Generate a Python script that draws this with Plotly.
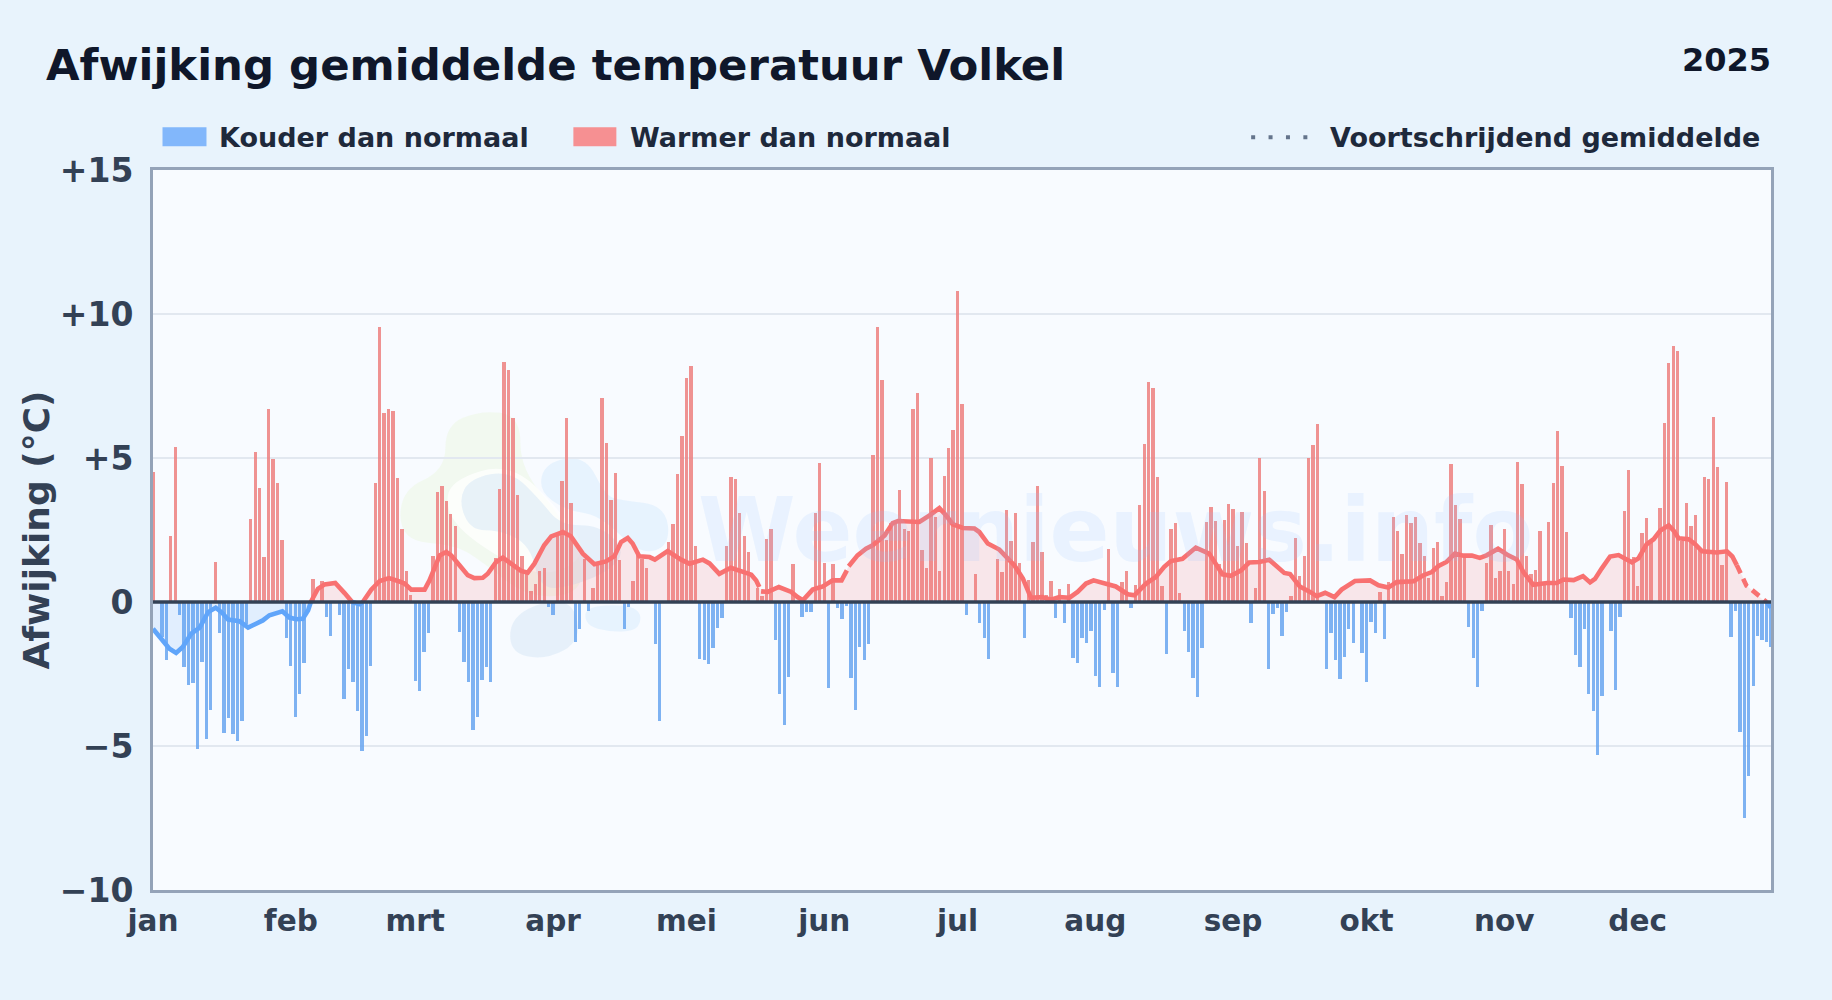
import plotly.graph_objects as go

# ---- data -----------------------------------------------------------------
month_days = [0, 31, 59, 90, 120, 151, 181, 212, 243, 273, 304, 334]
month_labels = ["jan", "feb", "mrt", "apr", "mei", "jun", "jul", "aug", "sep", "okt", "nov", "dec"]
y_ticks = [-10, -5, 0, 5, 10, 15]
y_labels = ["\u221210", "\u22125", "0", "+5", "+10", "+15"]

anomaly_jan_feb = [4.5, 0, -1.2, -2.0, 2.3, 5.37, -0.46, -2.26, -2.87, -2.8, -5.09, -2.08, -4.75, -3.74, 1.4, -1.06,
                   -4.55, -4.03, -4.57, -4.83, -4.13, -0.75, 2.87, 5.2, 3.95, 1.56, 6.69, 4.95, 4.12, 2.14, -1.25,
                   -2.23, -3.99, -3.19, -2.12, 0, 0.79, 0, 0.74, -0.52, -1.18, 0, -0.46, -3.37, -2.33, -2.78, -3.78,
                   -5.17, -4.65, -2.22, 4.12, 9.54, 6.55, 6.71, 6.62, 4.32, 2.55, 1.09, 0.23, -2.74]
anomaly_mar_apr = [-3.09, -1.74, -1.08, 1.59, 3.81, 4.02, 3.5, 3.04, 2.63, -1.04, -2.08, -2.78, -4.43, -3.99, -2.7,
                   -2.26, -2.78, 1.54, 3.91, 8.32, 8.04, 6.38, 3.7, 1.59, 1.1, 0.37, 0.61, 1.06, 1.17, -0.17, -0.45,
                   2.28, 4.19, 6.38, 3.43, -1.39, -0.95, 1.5, -0.31, 0.47, 1.33, 7.07, 5.51, 3.53, 4.47, 1.45, -0.94,
                   -0.17, 0.72, 1.62, 1.5, 1.17, 0, -1.46, -4.13, 0, 2.07, 2.72, 4.43, 5.75, 7.77, 8.18, 1.93, -1.98,
                   -2.03, -2.16]
anomaly_may_jul = [-1.6, -0.9, -0.56, 1.93, 4.33, 4.28, 3.08, 2.28, 1.72, 0, 0.5, 0.2, 2.18, 2.52, -1.32, -3.19, -4.27,
                   -2.6, 1.31, 0, -0.52, -0.35, -0.35, 3.08, 4.81, 1.34, -2.99, 1.31, -0.21, -0.59, -0.14, -2.64,
                   -3.75, -1.56, -2.03, -1.46, 5.09, 9.54, 7.7, 2.14, 2.75, 2.8, 3.88, 2.55, 2.45, 6.69, 7.25, 1.79,
                   1.17, 4.99, 2.95, 1.06, 4.36, 5.34, 5.96, 10.79, 6.86, -0.45, 0, 0.96, -0.73, -1.25, -1.98, 0, 1.48]
anomaly_jul_sep = [1.03, 3.18, 2.11, 3.08, 1.34, -1.25, 0.75, 2.07, 4.02, 1.72, 0.23, 0.72, -0.56, 0.44, -0.73, 0.61,
                   -1.94, -2.12, -1.25, -1.42, -1.0, -2.57, -2.95, -0.28, 1.83, -2.47, -2.95, 0.68, 1.06, -0.21, 0.58,
                   3.36, 5.47, 7.63, 7.42, 4.33, 0.54, -1.81, 2.52, 2.73, 0.3, -1.0, -1.74, -2.64, -3.3, -1.6, 2.77,
                   3.29, 2.8, 1.33, 2.84, 3.39, 3.22, 1.93, 3.11, 2.04, -0.73, 0.47, 4.99, 3.84, -2.33, -0.42, -0.21,
                   -1.18, -0.35, 0.2]
anomaly_sep_nov = [2.21, 0.91, 1.59, 4.99, 5.44, 6.17, 0, -2.33, -1.08, -2.01, -2.67, -1.91, -0.94, -1.42, 0, -1.77,
                   -2.78, -0.69, -1.08, 0.34, -1.28, 0.68, 2.94, 2.45, 1.66, 3.01, 2.73, 2.94, 2.04, 1.59, 0.82, 1.86,
                   2.07, 0.2, 0.68, 4.78, 3.36, 2.87, 1.68, -0.87, -1.94, -2.95, -0.31, 1.34, 2.66, 0.82, 1.06, 2.52,
                   1.06, 0.61, 4.85, 4.09, 1.59, 0.96, 1.1, 2.45, 0.64, 2.77, 4.12, 5.93, 4.71, 2.42]
anomaly_nov_dec = [-0.57, -1.83, -2.25, -0.93, -3.18, -3.77, -5.3, -3.27, 0, -0.99, -3.05, -0.51, 3.16, 4.58, 1.55,
                   0.56, 2.39, 2.92, 2.12, 0, 3.27, 6.22, 8.3, 8.89, 8.72, 2.12, 3.44, 2.64, 3.03, 1.82, 4.34, 4.27,
                   6.42, 4.69, 1.29, 4.17, -1.23, -0.3, -4.53, -7.51, -6.03, -2.91, -1.17, -1.32, -1.38, -1.56]
anomaly = anomaly_jan_feb + anomaly_mar_apr + anomaly_may_jul + anomaly_jul_sep + anomaly_sep_nov + anomaly_nov_dec

ma_days = [0, 2.2, 3.7, 5.2, 6.7, 8.6, 10.5, 12.4, 14.1, 15.4, 16.9, 19.5, 21.4, 24.7, 26.2, 29.1, 30.7, 32.2, 33.7,
           34.9, 35.5, 37.1, 38.6, 41, 43.1, 44.8, 46.5, 47.2, 49.1, 51, 53.1, 55.1, 56.6, 58.1, 60, 61.1, 62.2, 63.4,
           64.5, 66, 67.1, 69, 70.8, 72.3, 74.2, 75.3, 77.2, 78.7, 81, 82.8, 84.3, 85.8, 88, 89.6, 92.2, 94, 96.7,
           99.3, 101.9, 103.8, 105.3, 106.8, 107.9, 109.4, 111.7, 112.9, 115.8, 118.8, 120.7, 123.7, 125.2, 127.4,
           130, 131.9, 134.6, 135.7, 136.4, 136.8, 138.3, 140.8, 143.6, 145, 146.2, 148.4, 150.7, 152.9, 154.9, 156.1,
           156.5, 158.5, 160.4, 161.9, 164.6, 166.4, 167.6, 170.1, 172.4, 174.7, 176.9, 178.4, 179.9, 182.2, 184.8,
           185.9, 187.8, 190.4, 191.9, 193.8, 195.7, 196.8, 197.5, 200.1, 202, 203.9, 206.2, 208, 209.9, 211.6, 214.4,
           216.6, 219.3, 220.8, 223.4, 225.6, 227.5, 229, 231.6, 234.6, 237.6, 239.1, 240.6, 242.5, 244.8, 246.6,
           248.9, 251.1, 252.6, 254.5, 255.8, 258, 260.3, 261.8, 263.7, 265.8, 267.4, 270.4, 273.8, 275.7, 277.9,
           279.8, 283.6, 285.8, 287.7, 289.2, 291, 292.9, 294.8, 296.7, 298.5, 300, 302.6, 304.9, 306.8, 308.3, 310.5,
           313.6, 315.8, 317.3, 319.6, 321.7, 323.3, 324.4, 325.9, 327.8, 329.7, 331.2, 332.7, 334.2, 336, 337.6,
           339.1, 341, 342.1, 343.2, 345.5, 347, 348.5, 351.8, 354.1, 355.3, 356.3, 357.5, 358.5, 359.7, 362.3, 363,
           363.7, 364]
ma_values = [-0.93, -1.33, -1.62, -1.77, -1.56, -1.1, -0.89, -0.35, -0.2, -0.35, -0.61, -0.67, -0.89, -0.64, -0.46,
             -0.32, -0.54, -0.6, -0.58, -0.29, 0, 0.46, 0.61, 0.66, 0.31, 0, -0.08, 0, 0.43, 0.73, 0.83, 0.73, 0.64,
             0.43, 0.44, 0.43, 0.75, 1.22, 1.62, 1.74, 1.62, 1.27, 0.93, 0.83, 0.84, 0.98, 1.39, 1.54, 1.27, 1.08,
             1.02, 1.33, 1.97, 2.28, 2.43, 2.28, 1.68, 1.31, 1.41, 1.59, 2.08, 2.22, 2.03, 1.59, 1.56, 1.47, 1.77,
             1.47, 1.33, 1.47, 1.34, 0.98, 1.19, 1.08, 0.95, 0.75, 0.52, 0.37, 0.35, 0.52, 0.35, 0.17, 0.06, 0.43,
             0.54, 0.75, 0.75, 1.1, 1.24, 1.62, 1.85, 1.97, 2.31, 2.74, 2.81, 2.81, 2.78, 3.01, 3.26, 3.01, 2.7, 2.57,
             2.55, 2.43, 2.03, 1.82, 1.56, 1.27, 0.81, 0.35, 0.15, 0.17, 0.08, 0.17, 0.15, 0.35, 0.64, 0.75, 0.64,
             0.54, 0.27, 0.23, 0.64, 0.87, 1.22, 1.42, 1.5, 1.89, 1.68, 1.33, 0.96, 0.91, 1.1, 1.37, 1.39, 1.47, 1.27,
             1.01, 0.97, 0.54, 0.35, 0.2, 0.32, 0.17, 0.43, 0.73, 0.75, 0.58, 0.5, 0.69, 0.72, 0.93, 1.04, 1.25, 1.39,
             1.68, 1.61, 1.61, 1.53, 1.62, 1.85, 1.62, 1.48, 1.04, 0.6, 0.66, 0.66, 0.78, 0.76, 0.9, 0.68, 0.8, 1.16,
             1.58, 1.63, 1.52, 1.38, 1.52, 2.0, 2.18, 2.48, 2.66, 2.48, 2.21, 2.18, 2.0, 1.76, 1.72, 1.76, 1.58, 1.28,
             0.92, 0.56, 0.42, 0.06, 0, -0.16, -0.2]
gap_days = [136.6, 156.3]
dash_from_day = 356.3

# ---- styling --------------------------------------------------------------
FONT = "DejaVu Sans"
WIDTH, HEIGHT = 1832, 1000
L, R, T, B = 152.5, 1771, 169.7, 889.7
RED, BLUE = "#f87171", "#60a5fa"
BAR_RED, BAR_BLUE = "rgb(238,128,128)", "rgb(105,166,240)"


def px(x):
    return (x - L) / (R - L)


def py(y):
    return (B - y) / (B - T)


def blob(points):
    """Smooth closed decorative path through pixel points (watermark logo)."""
    pts = [(px(x), py(y)) for x, y in points]
    n = len(pts)
    mids = [((pts[i][0] + pts[(i + 1) % n][0]) / 2, (pts[i][1] + pts[(i + 1) % n][1]) / 2) for i in range(n)]
    d = f"M {mids[-1][0]:.5f},{mids[-1][1]:.5f}"
    for i in range(n):
        d += f" Q {pts[i][0]:.5f},{pts[i][1]:.5f} {mids[i][0]:.5f},{mids[i][1]:.5f}"
    return d + " Z"


def wm(points, color):
    return dict(type="path", xref="paper", yref="paper", path=blob(points), fillcolor=color,
                line=dict(width=0), layer="below")


shapes = [
    wm([(445, 425), (480, 410), (520, 415), (520, 470), (565, 520), (590, 590), (530, 600), (480, 560), (455, 545),
        (400, 540), (400, 490), (445, 470)], "rgba(236,248,228,0.55)"),
    wm([(450, 480), (510, 462), (560, 510), (590, 555), (540, 580), (470, 540), (445, 510)], "rgba(255,255,255,0.75)"),
    wm([(470, 478), (510, 470), (540, 500), (560, 525), (600, 525), (625, 550), (610, 570), (575, 585), (540, 590),
        (530, 545), (500, 530), (470, 530), (458, 500)], "rgba(219,234,247,0.6)"),
    wm([(545, 462), (585, 455), (605, 495), (620, 500), (665, 505), (670, 545), (640, 555), (600, 515), (565, 510),
        (538, 490)], "rgba(224,240,253,0.7)"),
    wm([(512, 612), (570, 595), (582, 640), (545, 660), (508, 652)], "rgba(219,234,247,0.6)"),
    wm([(585, 605), (640, 605), (640, 630), (610, 632), (585, 625)], "rgba(224,240,253,0.7)"),
    # zero line
    dict(type="line", xref="paper", yref="y", x0=0, x1=1, y0=0, y1=0, line=dict(color="#334155", width=3.5),
         layer="above"),
    # legend swatches and legend line sample
    dict(type="rect", xref="paper", yref="paper", x0=px(162), x1=px(206), y0=py(127), y1=py(146),
         fillcolor="#82b7fb", line=dict(width=0)),
    dict(type="rect", xref="paper", yref="paper", x0=px(573), x1=px(616), y0=py(127), y1=py(146),
         fillcolor="#f69092", line=dict(width=0)),
    dict(type="line", xref="paper", yref="paper", x0=px(1251), x1=px(1308), y0=py(137), y1=py(137),
         line=dict(color="#64748b", width=4, dash="4px,13.4px")),
]


def note(text, x, y, size, color, anchor="left", family=FONT, weight="bold"):
    return dict(text=f"<b>{text}</b>" if weight == "bold" else text, xref="paper", yref="paper", x=px(x), y=py(y),
                xanchor=anchor, yanchor="middle", showarrow=False, font=dict(family=family, size=size, color=color))


annotations = [
    note("Weernieuws.info", 1115, 530, 88.5, "rgba(147,197,253,0.15)", "center"),
    note("2025", 1773, 60, 32, "#0f172a", "right"),
    note("Kouder dan normaal", 217, 137, 27, "#1e293b"),
    note("Warmer dan normaal", 628, 137, 27, "#1e293b"),
    note("Voortschrijdend gemiddelde", 1762, 137, 27, "#1e293b", "right"),
]

# ---- traces ---------------------------------------------------------------
days = list(range(len(anomaly)))
warm = [v if v > 0 else None for v in anomaly]
cold = [v if v < 0 else None for v in anomaly]

fig = go.Figure()
fig.add_bar(x=days, y=cold, width=0.75, marker=dict(color=BAR_BLUE, line=dict(width=0)), opacity=0.85,
            name="Kouder dan normaal", showlegend=False)
fig.add_bar(x=days, y=warm, width=0.75, marker=dict(color=BAR_RED, line=dict(width=0)), opacity=0.85,
            name="Warmer dan normaal", showlegend=False)

pos_fill = [v if v >= 0 else None for v in ma_values]
neg_fill = [v if v <= 0 else None for v in ma_values]
fig.add_scatter(x=ma_days, y=pos_fill, mode="lines", line=dict(width=0), fill="tozeroy",
                fillcolor="rgba(248,113,113,0.15)", showlegend=False, hoverinfo="skip")
fig.add_scatter(x=ma_days, y=neg_fill, mode="lines", line=dict(width=0), fill="tozeroy",
                fillcolor="rgba(96,165,250,0.15)", showlegend=False, hoverinfo="skip")


def with_gaps(mask):
    xs, ys = [], []
    for d, v in zip(ma_days, ma_values):
        if any(xs and xs[-1] is not None and xs[-1] < g < d for g in gap_days):
            xs.append(None)
            ys.append(None)
        if mask(d, v):
            xs.append(d)
            ys.append(v)
        elif xs and xs[-1] is not None:
            xs.append(None)
            ys.append(None)
    return xs, ys


line_style = dict(width=4.6, shape="linear")
x_red, y_red = with_gaps(lambda d, v: v >= 0 and d <= dash_from_day)
x_blue, y_blue = with_gaps(lambda d, v: v <= 0 and d <= dash_from_day)
x_dash, y_dash = with_gaps(lambda d, v: v >= 0 and d >= dash_from_day)
x_dash_neg, y_dash_neg = with_gaps(lambda d, v: v <= 0 and d >= dash_from_day)
fig.add_scatter(x=x_red, y=y_red, mode="lines", line=dict(color=RED, **line_style), name="Voortschrijdend gemiddelde",
                showlegend=False)
fig.add_scatter(x=x_blue, y=y_blue, mode="lines", line=dict(color=BLUE, **line_style), showlegend=False)
fig.add_scatter(x=x_dash, y=y_dash, mode="lines", line=dict(color=RED, dash="9px,6px", **line_style), showlegend=False)
fig.add_scatter(x=x_dash_neg, y=y_dash_neg, mode="lines", line=dict(color=BLUE, dash="9px,6px", **line_style),
                showlegend=False)

axis_line = dict(showline=True, linecolor="#94a3b8", linewidth=3, mirror=True)
fig.update_layout(
    width=WIDTH, height=HEIGHT,
    margin=dict(l=L, r=WIDTH - R, t=T, b=HEIGHT - B, pad=0),
    paper_bgcolor="#e8f3fc", plot_bgcolor="#f8fbff",
    barmode="overlay", bargap=0, showlegend=False,
    title=dict(text="<b>Afwijking gemiddelde temperatuur Volkel</b>", x=46 / WIDTH, xanchor="left", xref="container",
               y=1 - 64.5 / HEIGHT, yanchor="middle", font=dict(family=FONT, size=43.4, color="#0f172a")),
    font=dict(family=FONT),
    xaxis=dict(range=[0, 364], tickmode="array", tickvals=month_days, ticktext=[f"<b>{m}</b>" for m in month_labels],
               showgrid=False, zeroline=False, ticks="", ticklabelstandoff=3,
               tickfont=dict(family=FONT, size=29.5, color="#334155"), **axis_line),
    yaxis=dict(range=[-10, 15], tickmode="array", tickvals=y_ticks, ticktext=[f"<b>{t}</b>" for t in y_labels],
               gridcolor="#e2e8f0", gridwidth=2, zeroline=False, ticks="", ticklabelstandoff=10,
               tickfont=dict(family=FONT, size=33, color="#334155"),
               title=dict(text="<b>Afwijking (\u00b0C)</b>", font=dict(family=FONT, size=36, color="#334155"),
                          standoff=0),
               **axis_line),
    shapes=shapes, annotations=annotations,
)

fig.write_html("out.html", config=dict(displayModeBar=False),
               post_script="document.body.style.margin='0';document.body.style.background='#e8f3fc';")
